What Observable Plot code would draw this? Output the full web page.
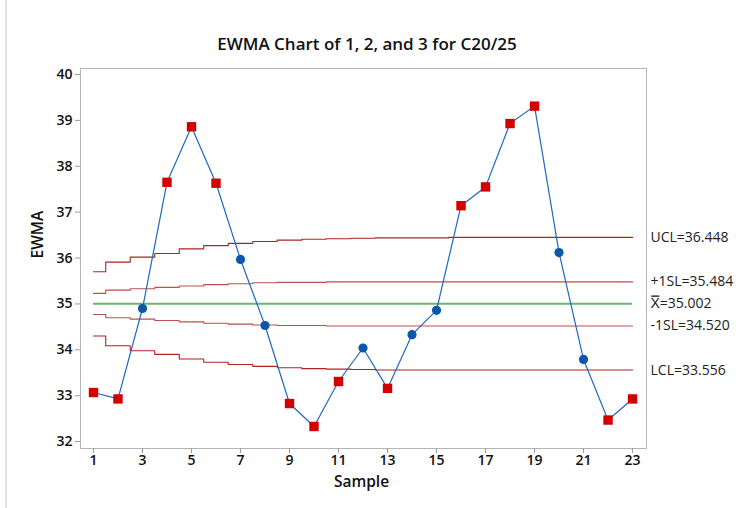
<!DOCTYPE html>
<html><head><meta charset="utf-8">
<script src="https://cdn.jsdelivr.net/npm/d3@7"></script>
<script src="https://cdn.jsdelivr.net/npm/@observablehq/plot@0.6"></script>
<style>
body{margin:0;background:#fff;}
#wrap{position:relative;width:749px;height:508px;overflow:hidden;font-family:"Open Sans",sans-serif;background:#fff;}
#wrap::before{content:"";position:absolute;left:5px;top:0;bottom:0;width:2px;background:#e3e3e3;}
#title{box-sizing:border-box;height:57px;padding-top:32px;padding-right:15px;line-height:24px;text-align:center;font-size:17px;font-weight:600;color:#111;}
</style></head><body>
<div id="wrap"><div id="title">EWMA Chart of 1, 2, and 3 for C20/25</div><div id="chart"></div></div>
<script>
const samples = [1,2,3,4,5,6,7,8,9,10,11,12,13,14,15,16,17,18,19,20,21,22,23];
const ewma = [33.07,32.93,34.90,37.65,38.86,37.63,35.97,34.53,32.83,32.33,33.31,34.04,33.16,34.33,34.86,37.14,37.55,38.93,39.31,36.12,33.79,32.47,32.93];
const flagged = [1,1,0,1,1,1,0,0,1,1,1,0,1,0,0,1,1,1,1,0,0,1,1];
const ucl = [35.70,35.91,36.02,36.10,36.20,36.27,36.32,36.36,36.39,36.41,36.42,36.43,36.44,36.44,36.44,36.45,36.45,36.45,36.45,36.45,36.45,36.45,36.45];
const usl = [35.23,35.30,35.33,35.36,35.39,35.42,35.44,35.46,35.47,35.47,35.48,35.48,35.48,35.48,35.48,35.48,35.48,35.48,35.48,35.48,35.48,35.48,35.48];
const lsl = [34.77,34.70,34.67,34.64,34.61,34.58,34.56,34.54,34.53,34.53,34.52,34.52,34.52,34.52,34.52,34.52,34.52,34.52,34.52,34.52,34.52,34.52,34.52];
const lcl = [34.30,34.09,33.98,33.90,33.80,33.73,33.68,33.64,33.61,33.59,33.58,33.57,33.56,33.56,33.56,33.56,33.56,33.56,33.56,33.56,33.56,33.56,33.56];
const center = 35.002;
const limitLabels = ["UCL=36.448", "+1SL=35.484", "X\u033F=35.002", "-1SL=34.520", "LCL=33.556"];
const limitValues = [36.448, 35.484, 35.002, 34.520, 33.556];
const xTicks = [1,3,5,7,9,11,13,15,17,19,21,23];
const yTicks = [32,33,34,35,36,37,38,39,40];

const pts = samples.map((s,i)=>({s, v: ewma[i], f: flagged[i]}));
const lim = (arr) => samples.map((s,i)=>({s, v: arr[i]}));
const labels = limitLabels.map((t,i)=>({t, v: limitValues[i]}));

const chart = Plot.plot({
  width: 749, height: 451,
  marginTop: 11, marginLeft: 80, marginRight: 103, marginBottom: 60,
  style: {fontFamily: "'Open Sans', sans-serif", fontSize: "13px", background: "#fff"},
  x: {domain: [0.47, 23.57]},
  y: {domain: [31.85, 40.13]},
  marks: [
    Plot.frame({stroke: "#b5b5b5"}),
    Plot.axisY({ticks: yTicks, tickSize: 5, tickPadding: 3, stroke: "#9a9a9a", fill: "#111", fontWeight: 600, fontSize: 14, label: null}),
    Plot.axisX({ticks: xTicks, tickSize: 5, tickPadding: 2, stroke: "#9a9a9a", fill: "#111", fontWeight: 600, fontSize: 14, label: null}),
    Plot.text(["EWMA"], {frameAnchor: "left", rotate: -90, dx: -42, fontSize: 15.5, fontWeight: 600, fill: "#111"}),
    Plot.text(["Sample"], {frameAnchor: "bottom", dy: 38, dx: -2, fontSize: 15.5, fontWeight: 600, fill: "#111"}),
    Plot.line(lim(ucl), {x: "s", y: "v", curve: "step", stroke: "#b02222", strokeWidth: 1.1}),
    Plot.line(lim(lcl), {x: "s", y: "v", curve: "step", stroke: "#b02222", strokeWidth: 1.1}),
    Plot.line(lim(usl), {x: "s", y: "v", curve: "step", stroke: "#bc5050", strokeWidth: 1.1}),
    Plot.line(lim(lsl), {x: "s", y: "v", curve: "step", stroke: "#bc5050", strokeWidth: 1.1}),
    Plot.ruleY([center], {x1: samples[0], x2: samples[samples.length-1], stroke: "#6cb46c", strokeWidth: 2}),
    Plot.line(pts, {x: "s", y: "v", stroke: "#1f68c0", strokeWidth: 1.2}),
    Plot.dot(pts.filter(d=>d.f), {x: "s", y: "v", symbol: "square", r: 5.3, fill: "#d40000", stroke: "none"}),
    Plot.dot(pts.filter(d=>!d.f), {x: "s", y: "v", symbol: "circle", r: 4.6, fill: "#0b57aa", stroke: "none"}),
    Plot.text(labels, {y: "v", text: "t", frameAnchor: "right", textAnchor: "start", dx: 4, fontSize: 14, fill: "#222"})
  ]
});
document.getElementById("chart").appendChild(chart);
</script>
</body></html>
